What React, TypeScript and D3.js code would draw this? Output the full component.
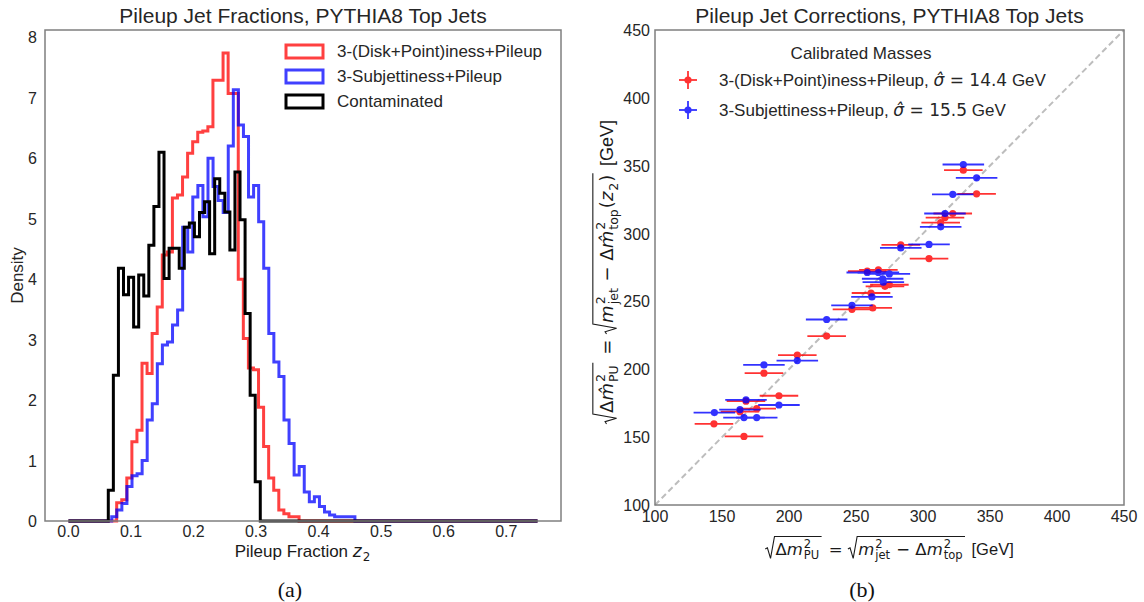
import React, { useEffect, useRef } from 'react';
import * as d3 from 'd3';

const W = 1144;
const H = 602;

// ---------- Panel (a): histogram data (density per bin) ----------
const binWidth = 0.0081;
const histRange = [0, 0.75];
const redStart = 0.0771;
const redDensity = [0.3, 0.35, 0.71, 1.31, 1.5, 2.61, 2.44, 3.1, 3.54, 4.4, 4.45, 5.34, 5.39, 5.69, 6.08, 6.27, 6.43, 6.45, 6.52, 7.29, 7.29, 7.74, 7.07, 7.07, 4.0, 3.02, 2.53, 2.5, 1.88, 1.23, 0.71, 0.51, 0.18, 0.12, 0.07, 0.07];
const blueStart = 0.0692;
const blueDensity = [0.07, 0.18, 0.29, 0.57, 0.75, 0.78, 1.0, 1.67, 1.94, 2.6, 2.91, 2.96, 3.24, 3.49, 4.86, 4.45, 5.36, 5.55, 5.03, 6.0, 5.53, 5.3, 5.1, 6.2, 7.13, 6.55, 6.36, 5.36, 5.55, 4.95, 4.18, 3.1, 2.63, 2.39, 1.67, 1.28, 0.76, 0.9, 0.48, 0.32, 0.4, 0.24, 0.15, 0.1, 0.07, 0.07, 0.07, 0.07];
const blackStart = 0.0637;
const blackDensity = [0.51, 2.41, 4.18, 3.74, 4.03, 3.21, 4.07, 3.72, 4.56, 5.2, 6.1, 4.01, 4.51, 4.51, 4.18, 4.86, 4.93, 4.7, 5.1, 5.28, 4.42, 5.66, 5.42, 5.11, 4.48, 5.77, 4.98, 3.43, 2.08, 0.65];
const histLabels = ['3-(Disk+Point)iness+Pileup', '3-Subjettiness+Pileup', 'Contaminated'];
const xTicksA = [0, 0.1, 0.2, 0.3, 0.4, 0.5, 0.6, 0.7];
const yTicksA = [0, 1, 2, 3, 4, 5, 6, 7, 8];

// ---------- Panel (b): calibrated masses ----------
const redTrue = [330.1, 340, 322.2, 316.4, 313.2, 283.4, 304.5, 258.4, 266.7, 274.9, 271.6, 261.2, 247, 262.5, 228.1, 206.2, 181.3, 192.5, 167.9, 163.4, 175.9, 144, 166.4];
const redPred = [346.7, 329.3, 314.8, 311.8, 308.1, 291.6, 281.6, 272.3, 273.3, 262.3, 261.1, 256.2, 244.2, 245.2, 224.5, 210.5, 197.1, 180.5, 176.5, 168.8, 171, 159.8, 150.5];
const blueTrue = [330.1, 340, 322.2, 316.4, 313.2, 283.4, 304.5, 258.4, 266.7, 274.9, 269.9, 270.4, 261.9, 247, 228.1, 206.2, 181.3, 192.5, 167.9, 163.4, 144.3, 166.4, 175.9];
const bluePred = [350.9, 341.1, 328.9, 314.8, 305, 289.4, 292, 271.3, 271.3, 270.3, 266.7, 264.2, 253.3, 247.1, 236.7, 206.4, 203.2, 173.7, 177.4, 170.3, 168.1, 164.4, 164.4];
const sigmaRed = 14.4;
const sigmaBlue = 15.5;
const ticksB = [100, 150, 200, 250, 300, 350, 400, 450];

const SANS = 'Liberation Sans, Arial, sans-serif';
const MATH = 'DejaVu Sans, sans-serif';

type Piece = { s?: string; it?: boolean; sup?: string; sub?: string; font?: string; sqrt?: Piece[] };

function renderPieces(g: any, pieces: Piece[], x0: number, fs: number): number {
  let x = x0;
  for (const p of pieces) {
    if (p.sqrt) {
      const sx = x;
      const cx = x + 0.62 * fs;
      const xe = renderPieces(g, p.sqrt, cx, fs);
      const top = -1.12 * fs;
      g.append('path')
        .attr('d', `M${sx},${-0.36 * fs} L${sx + 0.13 * fs},${-0.44 * fs} L${sx + 0.32 * fs},${0.2 * fs} L${sx + 0.56 * fs},${top} L${xe + 0.08 * fs},${top}`)
        .attr('fill', 'none').attr('stroke', '#1a1a1a').attr('stroke-width', 1.1);
      x = xe + 0.2 * fs;
    } else {
      const t = g.append('text').attr('x', x).attr('y', 0)
        .attr('font-family', p.font || MATH).attr('font-size', fs)
        .attr('font-style', p.it ? 'italic' : 'normal').attr('fill', '#1a1a1a')
        .style('white-space', 'pre')
        .text(p.s || '');
      x += (t.node() as SVGTextElement).getComputedTextLength();
      let w2 = 0;
      if (p.sup) {
        const ts = g.append('text').attr('x', x + 1).attr('y', -0.45 * fs)
          .attr('font-family', MATH).attr('font-size', fs * 0.7).attr('fill', '#1a1a1a').text(p.sup);
        w2 = Math.max(w2, (ts.node() as SVGTextElement).getComputedTextLength());
      }
      if (p.sub) {
        const tb = g.append('text').attr('x', x + 1).attr('y', 0.25 * fs)
          .attr('font-family', MATH).attr('font-size', fs * 0.7).attr('fill', '#1a1a1a').text(p.sub);
        w2 = Math.max(w2, (tb.node() as SVGTextElement).getComputedTextLength());
      }
      if (w2 > 0) x += w2 + 2;
    }
  }
  return x;
}

function mathLabel(parent: any, pieces: Piece[], cx: number, cy: number, fs: number, rotate = false) {
  const outer = parent.append('g').attr('transform', `translate(${cx},${cy})${rotate ? ' rotate(-90)' : ''}`);
  const g = outer.append('g');
  const w = renderPieces(g, pieces, 0, fs);
  g.attr('transform', `translate(${-w / 2},0)`);
}

function stepPoints(start: number, vals: number[]): [number, number][] {
  const pts: [number, number][] = [[histRange[0], 0], [start, 0]];
  vals.forEach((v, i) => {
    pts.push([start + i * binWidth, v]);
    pts.push([start + (i + 1) * binWidth, v]);
  });
  const end = start + vals.length * binWidth;
  pts.push([end, 0]);
  pts.push([histRange[1], 0]);
  return pts;
}

export default function App() {
  const ref = useRef<SVGSVGElement>(null);
  useEffect(() => {
    const svg = d3.select(ref.current);
    svg.selectAll('*').remove();
    svg.append('rect').attr('width', W).attr('height', H).attr('fill', 'white');

    // ================= Panel (a) =================
    const A = { left: 45, right: 561, top: 30, bottom: 521 };
    const xa = d3.scaleLinear().domain([-0.0375, 0.7875]).range([A.left, A.right]);
    const ya = d3.scaleLinear().domain([0, 8.12]).range([A.bottom, A.top]);
    const ga = svg.append('g');

    const line = d3.line<[number, number]>().x(d => xa(d[0])).y(d => ya(d[1])).curve(d3.curveLinear);
    const series = [
      { start: redStart, vals: redDensity, color: '#ff0000', op: 0.75 },
      { start: blueStart, vals: blueDensity, color: '#0000ff', op: 0.75 },
      { start: blackStart, vals: blackDensity, color: '#000000', op: 1 },
    ];
    series.forEach(s => {
      ga.append('path').attr('d', line(stepPoints(s.start, s.vals)) as string)
        .attr('fill', 'none').attr('stroke', s.color).attr('stroke-opacity', s.op)
        .attr('stroke-width', 3).attr('stroke-linejoin', 'miter');
    });

    ga.append('rect').attr('x', A.left).attr('y', A.top).attr('width', A.right - A.left).attr('height', A.bottom - A.top)
      .attr('fill', 'none').attr('stroke', '#7f7f7f').attr('stroke-width', 1.5);

    xTicksA.forEach(t => {
      ga.append('text').attr('x', xa(t)).attr('y', A.bottom + 16).attr('text-anchor', 'middle')
        .attr('font-family', SANS).attr('font-size', 16).attr('fill', '#262626').text(t.toFixed(1));
    });
    yTicksA.forEach(t => {
      ga.append('text').attr('x', A.left - 8).attr('y', ya(t) + 6).attr('text-anchor', 'end')
        .attr('font-family', SANS).attr('font-size', 16).attr('fill', '#262626').text(String(t));
    });

    ga.append('text').attr('x', (A.left + A.right) / 2).attr('y', 23).attr('text-anchor', 'middle')
      .attr('font-family', SANS).attr('font-size', 21).attr('fill', '#262626').text('Pileup Jet Fractions, PYTHIA8 Top Jets');
    ga.append('text').attr('transform', `translate(23,${(A.top + A.bottom) / 2}) rotate(-90)`).attr('text-anchor', 'middle')
      .attr('font-family', SANS).attr('font-size', 17).attr('fill', '#262626').text('Density');
    mathLabel(ga, [{ s: 'Pileup Fraction ', font: SANS }, { s: 'z', it: true, sub: '2' }], (A.left + A.right) / 2, 557, 17);

    // legend (a)
    histLabels.forEach((lab, i) => {
      const s = series[i];
      const y = 45 + i * 25;
      ga.append('rect').attr('x', 286).attr('y', y).attr('width', 37).attr('height', 13)
        .attr('fill', 'none').attr('stroke', s.color).attr('stroke-opacity', s.op).attr('stroke-width', 3);
      ga.append('text').attr('x', 337).attr('y', y + 12).attr('font-family', SANS).attr('font-size', 17)
        .attr('fill', '#262626').text(lab);
    });

    svg.append('text').attr('x', (A.left + A.right) / 2 - 13).attr('y', 597).attr('text-anchor', 'middle')
      .attr('font-family', 'Liberation Serif, serif').attr('font-size', 22).attr('fill', '#111').text('(a)');

    // ================= Panel (b) =================
    const B = { left: 655, right: 1124, top: 30, bottom: 505 };
    const xb = d3.scaleLinear().domain([100, 450]).range([B.left, B.right]);
    const yb = d3.scaleLinear().domain([100, 450]).range([B.bottom, B.top]);
    const gb = svg.append('g');

    gb.append('line').attr('x1', xb(100)).attr('y1', yb(100)).attr('x2', xb(450)).attr('y2', yb(450))
      .attr('stroke', '#bdbdbd').attr('stroke-width', 2).attr('stroke-dasharray', '6,3.5');

    const drawErr = (tx: number[], py: number[], sig: number, color: string) => {
      const g = gb.append('g').attr('opacity', 0.8);
      tx.forEach((x, i) => {
        g.append('line').attr('x1', xb(x - sig)).attr('x2', xb(x + sig)).attr('y1', yb(py[i])).attr('y2', yb(py[i]))
          .attr('stroke', color).attr('stroke-width', 1.8);
        g.append('circle').attr('cx', xb(x)).attr('cy', yb(py[i])).attr('r', 3.6).attr('fill', color);
      });
    };
    drawErr(redTrue, redPred, sigmaRed, '#ff0000');
    drawErr(blueTrue, bluePred, sigmaBlue, '#0000ff');

    gb.append('rect').attr('x', B.left).attr('y', B.top).attr('width', B.right - B.left).attr('height', B.bottom - B.top)
      .attr('fill', 'none').attr('stroke', '#7f7f7f').attr('stroke-width', 1.5);

    ticksB.forEach(t => {
      gb.append('text').attr('x', xb(t)).attr('y', B.bottom + 17).attr('text-anchor', 'middle')
        .attr('font-family', SANS).attr('font-size', 16).attr('fill', '#262626').text(String(t));
      gb.append('text').attr('x', B.left - 5).attr('y', yb(t) + 6).attr('text-anchor', 'end')
        .attr('font-family', SANS).attr('font-size', 16).attr('fill', '#262626').text(String(t));
    });

    gb.append('text').attr('x', (B.left + B.right) / 2).attr('y', 23).attr('text-anchor', 'middle')
      .attr('font-family', SANS).attr('font-size', 21).attr('fill', '#262626').text('Pileup Jet Corrections, PYTHIA8 Top Jets');

    mathLabel(gb, [
      { sqrt: [{ s: 'Δ' }, { s: 'm', it: true, sup: '2', sub: 'PU' }] },
      { s: ' = ' },
      { sqrt: [{ s: 'm', it: true, sup: '2', sub: 'jet' }, { s: ' − Δ' }, { s: 'm', it: true, sup: '2', sub: 'top' }] },
      { s: ' [GeV]', font: SANS },
    ], (B.left + B.right) / 2, 555, 16.5);

    mathLabel(gb, [
      { sqrt: [{ s: 'Δ' }, { s: 'm\u0302', it: true, sup: '2', sub: 'PU' }] },
      { s: ' = ' },
      { sqrt: [{ s: 'm', it: true, sup: '2', sub: 'jet' }, { s: ' − Δ' }, { s: 'm\u0302', it: true, sup: '2', sub: 'top' }, { s: '(' }, { s: 'z', it: true, sub: '2' }, { s: ')' }] },
      { s: ' [GeV]', font: SANS },
    ], 613, 272, 18, true);

    // legend (b)
    gb.append('text').attr('x', 861).attr('y', 59).attr('text-anchor', 'middle').attr('font-family', SANS)
      .attr('font-size', 17).attr('fill', '#262626').text('Calibrated Masses');
    const legB = [
      { name: '3-(Disk+Point)iness+Pileup, ', sig: sigmaRed, color: '#ff0000', y: 80 },
      { name: '3-Subjettiness+Pileup, ', sig: sigmaBlue, color: '#0000ff', y: 110 },
    ];
    legB.forEach(l => {
      const g = gb.append('g').attr('opacity', 0.8);
      g.append('line').attr('x1', 679).attr('x2', 697).attr('y1', l.y).attr('y2', l.y).attr('stroke', l.color).attr('stroke-width', 1.8);
      g.append('line').attr('x1', 688).attr('x2', 688).attr('y1', l.y - 9).attr('y2', l.y + 9).attr('stroke', l.color).attr('stroke-width', 1.8);
      g.append('circle').attr('cx', 688).attr('cy', l.y).attr('r', 3.6).attr('fill', l.color);
      const t = gb.append('text').attr('x', 719).attr('y', l.y + 6).attr('font-family', SANS).attr('font-size', 17)
        .attr('fill', '#262626').style('white-space', 'pre');
      t.append('tspan').text(l.name);
      t.append('tspan').attr('font-family', MATH).attr('font-style', 'italic').text('σ\u0302');
      t.append('tspan').attr('font-family', MATH).text(` = ${l.sig.toFixed(1)}`);
      t.append('tspan').text(' GeV');
    });

    svg.append('text').attr('x', 862).attr('y', 597).attr('text-anchor', 'middle')
      .attr('font-family', 'Liberation Serif, serif').attr('font-size', 22).attr('fill', '#111').text('(b)');
  }, []);

  return (
    <svg ref={ref} width={W} height={H} style={{ position: 'absolute', left: 0, top: 0 }} />
  );
}
